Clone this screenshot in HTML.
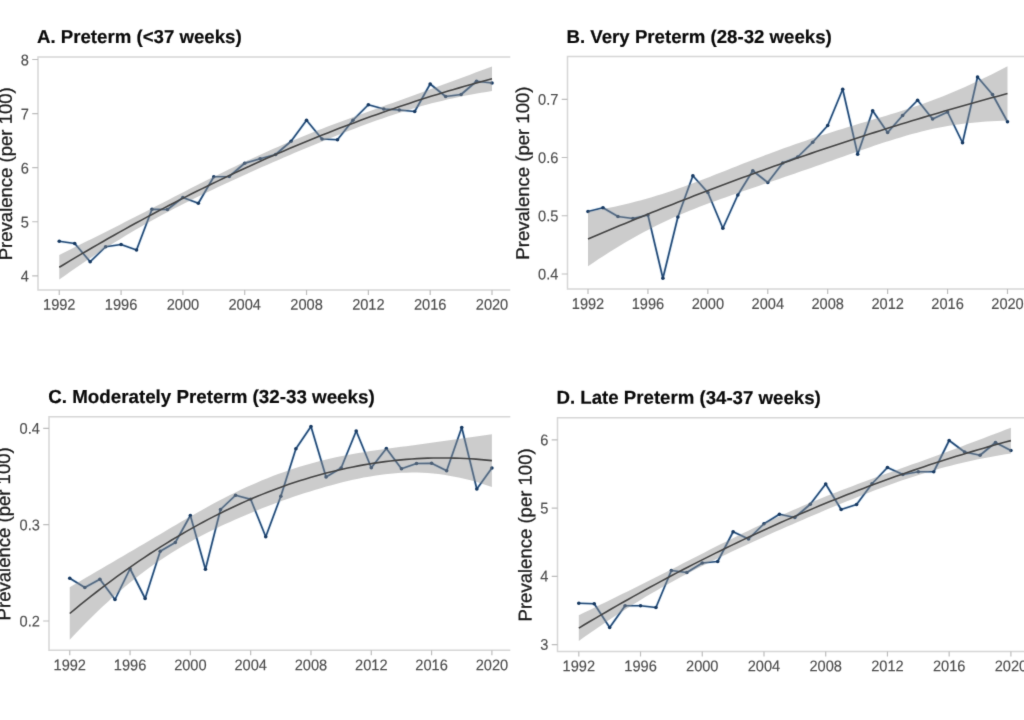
<!DOCTYPE html>
<html lang="en">
<head>
<meta charset="utf-8">
<title>Preterm birth prevalence, 1992-2020</title>
<style>
html,body{margin:0;padding:0;background:#fff;}
body{width:1024px;height:720px;overflow:hidden;font-family:"Liberation Sans",sans-serif;}
svg{display:block;}
text{font-family:"Liberation Sans",sans-serif;text-rendering:geometricPrecision;}
.border{fill:none;stroke:#d6d6d6;stroke-width:1.5;}
.ribbon{fill:#8e8e8e;fill-opacity:0.45;stroke:none;}
.series{fill:none;stroke:#254c78;stroke-width:1.7;stroke-linejoin:round;stroke-linecap:round;}
.halo{fill:none;stroke:#8fbde6;stroke-opacity:0.28;stroke-width:3.2;stroke-linejoin:round;stroke-linecap:round;}
.dots circle{fill:#183a62;}
.smooth{fill:none;stroke:#444444;stroke-width:1.6;stroke-linejoin:round;}
.ticks{fill:none;stroke:#bdbdbd;stroke-width:1.2;}
.ylab text{font-size:14.6px;fill:#4d4d4d;stroke:#4d4d4d;stroke-width:0.15px;text-anchor:end;}
.xlab text{font-size:14.6px;fill:#4d4d4d;stroke:#4d4d4d;stroke-width:0.15px;text-anchor:middle;}
.title{font-size:18.65px;font-weight:bold;fill:#0a0a0a;stroke:#0a0a0a;stroke-width:0.2px;}
.axt{font-size:18.55px;fill:#1a1a1a;stroke:#1a1a1a;stroke-width:0.3px;text-anchor:middle;}
</style>
</head>
<body>
<svg width="1024" height="720" viewBox="0 0 1024 720" role="img" aria-label="Prevalence of preterm birth by gestational age group, 1992 to 2020">
<defs><filter id="soft" x="0" y="0" width="1024" height="720" filterUnits="userSpaceOnUse" color-interpolation-filters="sRGB"><feConvolveMatrix order="3" kernelMatrix="0.0113 0.0838 0.0113 0.0838 0.6193 0.0838 0.0113 0.0838 0.0113" edgeMode="duplicate" preserveAlpha="false"/></filter></defs>
<rect x="0" y="0" width="1024" height="720" fill="#ffffff"/>
<g id="figure" filter="url(#soft)">
<g class="panel" id="panel-a">
<path class="border" d="M510.3 57H38V289.9H510.3"/>
<polyline class="halo" points="59.25,241.25 74.71,243.5 90.16,261.75 105.62,246.75 121.07,244.5 136.53,250 151.98,209.25 167.44,209.5 182.89,197.5 198.35,203.25 213.8,176.75 229.26,176.5 244.71,163.25 260.17,158.75 275.62,154.5 291.08,141.25 306.54,120.25 321.99,139 337.45,139.75 352.9,120.25 368.36,104.75 383.81,109 399.27,110 414.72,111.5 430.18,84 445.63,96.5 461.09,94.5 476.54,81.25 492,83"/>
<polyline class="series" points="59.25,241.25 74.71,243.5 90.16,261.75 105.62,246.75 121.07,244.5 136.53,250 151.98,209.25 167.44,209.5 182.89,197.5 198.35,203.25 213.8,176.75 229.26,176.5 244.71,163.25 260.17,158.75 275.62,154.5 291.08,141.25 306.54,120.25 321.99,139 337.45,139.75 352.9,120.25 368.36,104.75 383.81,109 399.27,110 414.72,111.5 430.18,84 445.63,96.5 461.09,94.5 476.54,81.25 492,83"/>
<g class="dots"><circle cx="59.25" cy="241.25" r="1.8"/><circle cx="74.71" cy="243.5" r="1.8"/><circle cx="90.16" cy="261.75" r="1.8"/><circle cx="105.62" cy="246.75" r="1.8"/><circle cx="121.07" cy="244.5" r="1.8"/><circle cx="136.53" cy="250" r="1.8"/><circle cx="151.98" cy="209.25" r="1.8"/><circle cx="167.44" cy="209.5" r="1.8"/><circle cx="182.89" cy="197.5" r="1.8"/><circle cx="198.35" cy="203.25" r="1.8"/><circle cx="213.8" cy="176.75" r="1.8"/><circle cx="229.26" cy="176.5" r="1.8"/><circle cx="244.71" cy="163.25" r="1.8"/><circle cx="260.17" cy="158.75" r="1.8"/><circle cx="275.62" cy="154.5" r="1.8"/><circle cx="291.08" cy="141.25" r="1.8"/><circle cx="306.54" cy="120.25" r="1.8"/><circle cx="321.99" cy="139" r="1.8"/><circle cx="337.45" cy="139.75" r="1.8"/><circle cx="352.9" cy="120.25" r="1.8"/><circle cx="368.36" cy="104.75" r="1.8"/><circle cx="383.81" cy="109" r="1.8"/><circle cx="399.27" cy="110" r="1.8"/><circle cx="414.72" cy="111.5" r="1.8"/><circle cx="430.18" cy="84" r="1.8"/><circle cx="445.63" cy="96.5" r="1.8"/><circle cx="461.09" cy="94.5" r="1.8"/><circle cx="476.54" cy="81.25" r="1.8"/><circle cx="492" cy="83" r="1.8"/></g>
<polygon class="ribbon" points="59.25,254.95 64.73,252.24 70.21,249.52 75.68,246.81 81.16,244.09 86.64,241.37 92.12,238.64 97.59,235.9 103.07,233.16 108.55,230.42 114.03,227.66 119.51,224.89 124.98,222.12 130.46,219.33 135.94,216.54 141.42,213.74 146.9,210.92 152.37,208.1 157.85,205.28 163.33,202.45 168.81,199.63 174.28,196.8 179.76,193.98 185.24,191.17 190.72,188.37 196.2,185.59 201.67,182.82 207.15,180.07 212.63,177.34 218.11,174.63 223.59,171.95 229.06,169.29 234.54,166.66 240.02,164.06 245.5,161.49 250.97,158.94 256.45,156.43 261.93,153.95 267.41,151.5 272.89,149.08 278.36,146.7 283.84,144.34 289.32,142.02 294.8,139.73 300.28,137.46 305.75,135.23 311.23,133.03 316.71,130.86 322.19,128.72 327.66,126.6 333.14,124.51 338.62,122.45 344.1,120.4 349.58,118.38 355.05,116.38 360.53,114.39 366.01,112.41 371.49,110.45 376.97,108.5 382.44,106.55 387.92,104.6 393.4,102.66 398.88,100.71 404.35,98.75 409.83,96.79 415.31,94.83 420.79,92.85 426.27,90.86 431.74,88.86 437.22,86.85 442.7,84.84 448.18,82.81 453.66,80.78 459.13,78.74 464.61,76.69 470.09,74.64 475.57,72.59 481.04,70.53 486.52,68.47 492,66.41 492,91.07 486.52,91.93 481.04,92.84 475.57,93.8 470.09,94.81 464.61,95.87 459.13,96.98 453.66,98.15 448.18,99.37 442.7,100.65 437.22,101.98 431.74,103.37 426.27,104.81 420.79,106.32 415.31,107.88 409.83,109.49 404.35,111.17 398.88,112.89 393.4,114.67 387.92,116.5 382.44,118.38 376.97,120.3 371.49,122.27 366.01,124.27 360.53,126.31 355.05,128.38 349.58,130.49 344.1,132.62 338.62,134.78 333.14,136.96 327.66,139.17 322.19,141.4 316.71,143.65 311.23,145.92 305.75,148.21 300.28,150.51 294.8,152.84 289.32,155.17 283.84,157.53 278.36,159.9 272.89,162.29 267.41,164.69 261.93,167.11 256.45,169.54 250.97,171.99 245.5,174.46 240.02,176.95 234.54,179.45 229.06,181.97 223.59,184.52 218.11,187.08 212.63,189.67 207.15,192.28 201.67,194.92 196.2,197.59 190.72,200.29 185.24,203.03 179.76,205.8 174.28,208.6 168.81,211.45 163.33,214.35 157.85,217.29 152.37,220.29 146.9,223.33 141.42,226.43 135.94,229.59 130.46,232.8 124.98,236.07 119.51,239.4 114.03,242.79 108.55,246.23 103.07,249.72 97.59,253.28 92.12,256.88 86.64,260.54 81.16,264.26 75.68,268.02 70.21,271.83 64.73,275.7 59.25,279.61"/>
<polyline class="smooth" points="59.25,267.28 64.73,263.97 70.21,260.68 75.68,257.41 81.16,254.17 86.64,250.95 92.12,247.76 97.59,244.59 103.07,241.44 108.55,238.32 114.03,235.22 119.51,232.15 124.98,229.1 130.46,226.07 135.94,223.06 141.42,220.08 146.9,217.13 152.37,214.2 157.85,211.29 163.33,208.4 168.81,205.54 174.28,202.7 179.76,199.89 185.24,197.1 190.72,194.33 196.2,191.59 201.67,188.87 207.15,186.18 212.63,183.5 218.11,180.86 223.59,178.23 229.06,175.63 234.54,173.06 240.02,170.5 245.5,167.97 250.97,165.47 256.45,162.99 261.93,160.53 267.41,158.09 272.89,155.68 278.36,153.3 283.84,150.93 289.32,148.6 294.8,146.28 300.28,143.99 305.75,141.72 311.23,139.48 316.71,137.26 322.19,135.06 327.66,132.89 333.14,130.74 338.62,128.61 344.1,126.51 349.58,124.43 355.05,122.38 360.53,120.35 366.01,118.34 371.49,116.36 376.97,114.4 382.44,112.46 387.92,110.55 393.4,108.66 398.88,106.8 404.35,104.96 409.83,103.14 415.31,101.35 420.79,99.58 426.27,97.84 431.74,96.11 437.22,94.42 442.7,92.74 448.18,91.09 453.66,89.46 459.13,87.86 464.61,86.28 470.09,84.73 475.57,83.2 481.04,81.69 486.52,80.2 492,78.74"/>
<path class="ticks" d="M32.2 275.8h5.8M32.2 221.73h5.8M32.2 167.65h5.8M32.2 113.58h5.8M32.2 59.5h5.8M59.25 289.9v5M121.07 289.9v5M182.89 289.9v5M244.71 289.9v5M306.54 289.9v5M368.36 289.9v5M430.18 289.9v5M492 289.9v5"/>
<g class="ylab"><text transform="translate(28.9 281.6) rotate(0.03) scale(1 1.06)">4</text><text transform="translate(28.9 227.53) rotate(0.03) scale(1 1.06)">5</text><text transform="translate(28.9 173.45) rotate(0.03) scale(1 1.06)">6</text><text transform="translate(28.9 119.38) rotate(0.03) scale(1 1.06)">7</text><text transform="translate(28.9 65.3) rotate(0.03) scale(1 1.06)">8</text></g>
<g class="xlab"><text transform="translate(59.25 309.8) rotate(0.03) scale(1 1.06)">1992</text><text transform="translate(121.07 309.8) rotate(0.03) scale(1 1.06)">1996</text><text transform="translate(182.89 309.8) rotate(0.03) scale(1 1.06)">2000</text><text transform="translate(244.71 309.8) rotate(0.03) scale(1 1.06)">2004</text><text transform="translate(306.54 309.8) rotate(0.03) scale(1 1.06)">2008</text><text transform="translate(368.36 309.8) rotate(0.03) scale(1 1.06)">2012</text><text transform="translate(430.18 309.8) rotate(0.03) scale(1 1.06)">2016</text><text transform="translate(492 309.8) rotate(0.03) scale(1 1.06)">2020</text></g>
<text class="title" transform="translate(37 43) rotate(0.03)">A. Preterm (&lt;37 weeks)</text>
<text class="axt" transform="translate(11.9 173.75) rotate(-90.03)">Prevalence (per 100)</text>
</g>
<g class="panel" id="panel-b">
<path class="border" d="M1030 56.6H567.5V289H1030"/>
<polyline class="halo" points="588,211.5 602.98,207.75 617.96,216.5 632.95,218.5 647.93,215 662.91,278.25 677.89,217 692.88,175.75 707.86,192.5 722.84,228.25 737.82,195 752.8,170.75 767.79,182.5 782.77,163 797.75,157 812.73,142.25 827.71,125.5 842.7,89.25 857.68,154.25 872.66,110.75 887.64,132.5 902.62,115.5 917.61,100.25 932.59,119 947.57,112 962.55,142.75 977.54,77 992.52,94.5 1007.5,121.75"/>
<polyline class="series" points="588,211.5 602.98,207.75 617.96,216.5 632.95,218.5 647.93,215 662.91,278.25 677.89,217 692.88,175.75 707.86,192.5 722.84,228.25 737.82,195 752.8,170.75 767.79,182.5 782.77,163 797.75,157 812.73,142.25 827.71,125.5 842.7,89.25 857.68,154.25 872.66,110.75 887.64,132.5 902.62,115.5 917.61,100.25 932.59,119 947.57,112 962.55,142.75 977.54,77 992.52,94.5 1007.5,121.75"/>
<g class="dots"><circle cx="588" cy="211.5" r="1.8"/><circle cx="602.98" cy="207.75" r="1.8"/><circle cx="617.96" cy="216.5" r="1.8"/><circle cx="632.95" cy="218.5" r="1.8"/><circle cx="647.93" cy="215" r="1.8"/><circle cx="662.91" cy="278.25" r="1.8"/><circle cx="677.89" cy="217" r="1.8"/><circle cx="692.88" cy="175.75" r="1.8"/><circle cx="707.86" cy="192.5" r="1.8"/><circle cx="722.84" cy="228.25" r="1.8"/><circle cx="737.82" cy="195" r="1.8"/><circle cx="752.8" cy="170.75" r="1.8"/><circle cx="767.79" cy="182.5" r="1.8"/><circle cx="782.77" cy="163" r="1.8"/><circle cx="797.75" cy="157" r="1.8"/><circle cx="812.73" cy="142.25" r="1.8"/><circle cx="827.71" cy="125.5" r="1.8"/><circle cx="842.7" cy="89.25" r="1.8"/><circle cx="857.68" cy="154.25" r="1.8"/><circle cx="872.66" cy="110.75" r="1.8"/><circle cx="887.64" cy="132.5" r="1.8"/><circle cx="902.62" cy="115.5" r="1.8"/><circle cx="917.61" cy="100.25" r="1.8"/><circle cx="932.59" cy="119" r="1.8"/><circle cx="947.57" cy="112" r="1.8"/><circle cx="962.55" cy="142.75" r="1.8"/><circle cx="977.54" cy="77" r="1.8"/><circle cx="992.52" cy="94.5" r="1.8"/><circle cx="1007.5" cy="121.75" r="1.8"/></g>
<polygon class="ribbon" points="588,211.75 593.31,210.82 598.62,209.85 603.93,208.82 609.24,207.75 614.55,206.63 619.86,205.46 625.17,204.23 630.48,202.94 635.79,201.6 641.1,200.19 646.41,198.73 651.72,197.2 657.03,195.6 662.34,193.95 667.65,192.23 672.96,190.45 678.27,188.61 683.58,186.72 688.89,184.79 694.2,182.81 699.51,180.79 704.82,178.75 710.13,176.68 715.44,174.6 720.75,172.5 726.06,170.4 731.37,168.3 736.68,166.2 741.99,164.11 747.3,162.03 752.61,159.97 757.92,157.93 763.23,155.9 768.54,153.9 773.85,151.93 779.16,149.97 784.47,148.05 789.78,146.15 795.09,144.28 800.41,142.44 805.72,140.63 811.03,138.84 816.34,137.09 821.65,135.36 826.96,133.65 832.27,131.97 837.58,130.31 842.89,128.67 848.2,127.05 853.51,125.45 858.82,123.85 864.13,122.27 869.44,120.69 874.75,119.11 880.06,117.52 885.37,115.93 890.68,114.31 895.99,112.67 901.3,111.01 906.61,109.3 911.92,107.56 917.23,105.76 922.54,103.92 927.85,102.02 933.16,100.05 938.47,98.03 943.78,95.94 949.09,93.79 954.4,91.57 959.71,89.29 965.02,86.96 970.33,84.56 975.64,82.11 980.95,79.6 986.26,77.04 991.57,74.43 996.88,71.77 1002.19,69.06 1007.5,66.31 1007.5,120.78 1002.19,120.87 996.88,121.04 991.57,121.27 986.26,121.57 980.95,121.95 975.64,122.4 970.33,122.92 965.02,123.53 959.71,124.21 954.4,124.97 949.09,125.82 943.78,126.75 938.47,127.77 933.16,128.87 927.85,130.06 922.54,131.33 917.23,132.67 911.92,134.09 906.61,135.58 901.3,137.13 895.99,138.74 890.68,140.4 885.37,142.1 880.06,143.85 874.75,145.62 869.44,147.43 864.13,149.25 858.82,151.09 853.51,152.95 848.2,154.81 842.89,156.68 837.58,158.56 832.27,160.43 826.96,162.3 821.65,164.17 816.34,166.04 811.03,167.9 805.72,169.75 800.41,171.6 795.09,173.44 789.78,175.28 784.47,177.1 779.16,178.93 773.85,180.74 768.54,182.55 763.23,184.36 757.92,186.17 752.61,187.98 747.3,189.79 741.99,191.61 736.68,193.44 731.37,195.28 726.06,197.14 720.75,199.02 715.44,200.92 710.13,202.86 704.82,204.84 699.51,206.86 694.2,208.93 688.89,211.06 683.58,213.26 678.27,215.52 672.96,217.86 667.65,220.27 662.34,222.77 657.03,225.35 651.72,228.01 646.41,230.76 641.1,233.6 635.79,236.51 630.48,239.51 625.17,242.59 619.86,245.75 614.55,248.98 609.24,252.29 603.93,255.67 598.62,259.12 593.31,262.64 588,266.22"/>
<polyline class="smooth" points="588,238.99 593.31,236.73 598.62,234.48 603.93,232.25 609.24,230.02 614.55,227.81 619.86,225.6 625.17,223.41 630.48,221.23 635.79,219.06 641.1,216.9 646.41,214.74 651.72,212.6 657.03,210.48 662.34,208.36 667.65,206.25 672.96,204.15 678.27,202.07 683.58,199.99 688.89,197.93 694.2,195.87 699.51,193.83 704.82,191.79 710.13,189.77 715.44,187.76 720.75,185.76 726.06,183.77 731.37,181.79 736.68,179.82 741.99,177.86 747.3,175.91 752.61,173.98 757.92,172.05 763.23,170.13 768.54,168.23 773.85,166.33 779.16,164.45 784.47,162.58 789.78,160.71 795.09,158.86 800.41,157.02 805.72,155.19 811.03,153.37 816.34,151.56 821.65,149.76 826.96,147.98 832.27,146.2 837.58,144.43 842.89,142.68 848.2,140.93 853.51,139.2 858.82,137.47 864.13,135.76 869.44,134.06 874.75,132.37 880.06,130.69 885.37,129.02 890.68,127.36 895.99,125.71 901.3,124.07 906.61,122.44 911.92,120.82 917.23,119.22 922.54,117.62 927.85,116.04 933.16,114.46 938.47,112.9 943.78,111.35 949.09,109.8 954.4,108.27 959.71,106.75 965.02,105.24 970.33,103.74 975.64,102.25 980.95,100.77 986.26,99.31 991.57,97.85 996.88,96.4 1002.19,94.97 1007.5,93.54"/>
<path class="ticks" d="M561.7 274h5.8M561.7 215.75h5.8M561.7 157.5h5.8M561.7 99.3h5.8M588 289v5M647.93 289v5M707.86 289v5M767.79 289v5M827.71 289v5M887.64 289v5M947.57 289v5M1007.5 289v5"/>
<g class="ylab"><text transform="translate(558.4 279.5) rotate(0.03) scale(1 1.06)">0.4</text><text transform="translate(558.4 221.25) rotate(0.03) scale(1 1.06)">0.5</text><text transform="translate(558.4 163) rotate(0.03) scale(1 1.06)">0.6</text><text transform="translate(558.4 104.8) rotate(0.03) scale(1 1.06)">0.7</text></g>
<g class="xlab"><text transform="translate(588 308.9) rotate(0.03) scale(1 1.06)">1992</text><text transform="translate(647.93 308.9) rotate(0.03) scale(1 1.06)">1996</text><text transform="translate(707.86 308.9) rotate(0.03) scale(1 1.06)">2000</text><text transform="translate(767.79 308.9) rotate(0.03) scale(1 1.06)">2004</text><text transform="translate(827.71 308.9) rotate(0.03) scale(1 1.06)">2008</text><text transform="translate(887.64 308.9) rotate(0.03) scale(1 1.06)">2012</text><text transform="translate(947.57 308.9) rotate(0.03) scale(1 1.06)">2016</text><text transform="translate(1007.5 308.9) rotate(0.03) scale(1 1.06)">2020</text></g>
<text class="title" transform="translate(566.5 43) rotate(0.03)">B. Very Preterm (28-32 weeks)</text>
<text class="axt" transform="translate(529 173.1) rotate(-90.03)">Prevalence (per 100)</text>
</g>
<g class="panel" id="panel-c">
<path class="border" d="M510.3 416.75H49V650.35H510.3"/>
<polyline class="halo" points="69.75,578.25 84.83,587.5 99.9,579.25 114.98,599.5 130.06,568.75 145.13,598.5 160.21,551.25 175.29,542.5 190.36,515.5 205.44,569.25 220.52,509.5 235.59,495.25 250.67,499.25 265.75,536.75 280.82,496.25 295.9,448.75 310.98,426.5 326.06,477 341.13,468 356.21,431 371.29,467.75 386.36,448.5 401.44,468.75 416.52,463.5 431.59,463.25 446.67,470.75 461.75,427.5 476.82,489 491.9,468"/>
<polyline class="series" points="69.75,578.25 84.83,587.5 99.9,579.25 114.98,599.5 130.06,568.75 145.13,598.5 160.21,551.25 175.29,542.5 190.36,515.5 205.44,569.25 220.52,509.5 235.59,495.25 250.67,499.25 265.75,536.75 280.82,496.25 295.9,448.75 310.98,426.5 326.06,477 341.13,468 356.21,431 371.29,467.75 386.36,448.5 401.44,468.75 416.52,463.5 431.59,463.25 446.67,470.75 461.75,427.5 476.82,489 491.9,468"/>
<g class="dots"><circle cx="69.75" cy="578.25" r="1.8"/><circle cx="84.83" cy="587.5" r="1.8"/><circle cx="99.9" cy="579.25" r="1.8"/><circle cx="114.98" cy="599.5" r="1.8"/><circle cx="130.06" cy="568.75" r="1.8"/><circle cx="145.13" cy="598.5" r="1.8"/><circle cx="160.21" cy="551.25" r="1.8"/><circle cx="175.29" cy="542.5" r="1.8"/><circle cx="190.36" cy="515.5" r="1.8"/><circle cx="205.44" cy="569.25" r="1.8"/><circle cx="220.52" cy="509.5" r="1.8"/><circle cx="235.59" cy="495.25" r="1.8"/><circle cx="250.67" cy="499.25" r="1.8"/><circle cx="265.75" cy="536.75" r="1.8"/><circle cx="280.82" cy="496.25" r="1.8"/><circle cx="295.9" cy="448.75" r="1.8"/><circle cx="310.98" cy="426.5" r="1.8"/><circle cx="326.06" cy="477" r="1.8"/><circle cx="341.13" cy="468" r="1.8"/><circle cx="356.21" cy="431" r="1.8"/><circle cx="371.29" cy="467.75" r="1.8"/><circle cx="386.36" cy="448.5" r="1.8"/><circle cx="401.44" cy="468.75" r="1.8"/><circle cx="416.52" cy="463.5" r="1.8"/><circle cx="431.59" cy="463.25" r="1.8"/><circle cx="446.67" cy="470.75" r="1.8"/><circle cx="461.75" cy="427.5" r="1.8"/><circle cx="476.82" cy="489" r="1.8"/><circle cx="491.9" cy="468" r="1.8"/></g>
<polygon class="ribbon" points="69.75,587.17 75.09,584.02 80.44,580.89 85.78,577.76 91.12,574.64 96.47,571.53 101.81,568.41 107.16,565.3 112.5,562.19 117.84,559.07 123.19,555.95 128.53,552.82 133.87,549.69 139.22,546.54 144.56,543.39 149.91,540.24 155.25,537.08 160.59,533.91 165.94,530.75 171.28,527.6 176.62,524.46 181.97,521.34 187.31,518.24 192.65,515.18 198,512.15 203.34,509.16 208.69,506.22 214.03,503.34 219.37,500.51 224.72,497.75 230.06,495.05 235.4,492.42 240.75,489.86 246.09,487.37 251.43,484.96 256.78,482.63 262.12,480.37 267.47,478.2 272.81,476.1 278.15,474.08 283.5,472.15 288.84,470.3 294.18,468.52 299.53,466.83 304.87,465.22 310.22,463.68 315.56,462.22 320.9,460.84 326.25,459.53 331.59,458.29 336.93,457.12 342.28,456.01 347.62,454.97 352.96,453.99 358.31,453.05 363.65,452.17 369,451.33 374.34,450.52 379.68,449.75 385.03,449 390.37,448.27 395.71,447.56 401.06,446.85 406.4,446.14 411.74,445.43 417.09,444.72 422.43,444 427.78,443.28 433.12,442.54 438.46,441.8 443.81,441.05 449.15,440.3 454.49,439.54 459.84,438.79 465.18,438.03 470.53,437.28 475.87,436.53 481.21,435.78 486.56,435.05 491.9,434.33 491.9,486.99 486.56,485.15 481.21,483.42 475.87,481.82 470.53,480.34 465.18,478.98 459.84,477.74 454.49,476.64 449.15,475.66 443.81,474.81 438.46,474.1 433.12,473.52 427.78,473.07 422.43,472.76 417.09,472.59 411.74,472.55 406.4,472.64 401.06,472.86 395.71,473.21 390.37,473.68 385.03,474.26 379.68,474.95 374.34,475.75 369,476.64 363.65,477.62 358.31,478.69 352.96,479.84 347.62,481.06 342.28,482.35 336.93,483.71 331.59,485.13 326.25,486.61 320.9,488.15 315.56,489.74 310.22,491.38 304.87,493.08 299.53,494.82 294.18,496.61 288.84,498.45 283.5,500.34 278.15,502.28 272.81,504.26 267.47,506.29 262.12,508.36 256.78,510.49 251.43,512.66 246.09,514.89 240.75,517.17 235.4,519.5 230.06,521.89 224.72,524.34 219.37,526.85 214.03,529.43 208.69,532.08 203.34,534.8 198,537.6 192.65,540.49 187.31,543.46 181.97,546.54 176.62,549.72 171.28,553 165.94,556.4 160.59,559.93 155.25,563.57 149.91,567.35 144.56,571.26 139.22,575.3 133.87,579.48 128.53,583.8 123.19,588.25 117.84,592.83 112.5,597.55 107.16,602.39 101.81,607.37 96.47,612.48 91.12,617.7 85.78,623.06 80.44,628.53 75.09,634.12 69.75,639.83"/>
<polyline class="smooth" points="69.75,613.5 75.09,609.07 80.44,604.71 85.78,600.41 91.12,596.17 96.47,592 101.81,587.89 107.16,583.85 112.5,579.87 117.84,575.95 123.19,572.1 128.53,568.31 133.87,564.58 139.22,560.92 144.56,557.33 149.91,553.79 155.25,550.32 160.59,546.92 165.94,543.58 171.28,540.3 176.62,537.09 181.97,533.94 187.31,530.85 192.65,527.83 198,524.87 203.34,521.98 208.69,519.15 214.03,516.38 219.37,513.68 224.72,511.04 230.06,508.47 235.4,505.96 240.75,503.51 246.09,501.13 251.43,498.81 256.78,496.56 262.12,494.37 267.47,492.24 272.81,490.18 278.15,488.18 283.5,486.25 288.84,484.37 294.18,482.57 299.53,480.82 304.87,479.15 310.22,477.53 315.56,475.98 320.9,474.49 326.25,473.07 331.59,471.71 336.93,470.41 342.28,469.18 347.62,468.02 352.96,466.91 358.31,465.87 363.65,464.9 369,463.98 374.34,463.14 379.68,462.35 385.03,461.63 390.37,460.98 395.71,460.38 401.06,459.86 406.4,459.39 411.74,458.99 417.09,458.65 422.43,458.38 427.78,458.17 433.12,458.03 438.46,457.95 443.81,457.93 449.15,457.98 454.49,458.09 459.84,458.26 465.18,458.5 470.53,458.81 475.87,459.17 481.21,459.6 486.56,460.1 491.9,460.66"/>
<path class="ticks" d="M43.2 621h5.8M43.2 524.65h5.8M43.2 428.3h5.8M69.75 650.35v5M130.06 650.35v5M190.36 650.35v5M250.67 650.35v5M310.98 650.35v5M371.29 650.35v5M431.59 650.35v5M491.9 650.35v5"/>
<g class="ylab"><text transform="translate(39.9 626.5) rotate(0.03) scale(1 1.06)">0.2</text><text transform="translate(39.9 530.15) rotate(0.03) scale(1 1.06)">0.3</text><text transform="translate(39.9 433.8) rotate(0.03) scale(1 1.06)">0.4</text></g>
<g class="xlab"><text transform="translate(69.75 670.25) rotate(0.03) scale(1 1.06)">1992</text><text transform="translate(130.06 670.25) rotate(0.03) scale(1 1.06)">1996</text><text transform="translate(190.36 670.25) rotate(0.03) scale(1 1.06)">2000</text><text transform="translate(250.67 670.25) rotate(0.03) scale(1 1.06)">2004</text><text transform="translate(310.98 670.25) rotate(0.03) scale(1 1.06)">2008</text><text transform="translate(371.29 670.25) rotate(0.03) scale(1 1.06)">2012</text><text transform="translate(431.59 670.25) rotate(0.03) scale(1 1.06)">2016</text><text transform="translate(491.9 670.25) rotate(0.03) scale(1 1.06)">2020</text></g>
<text class="title" style="font-size:18.77px" transform="translate(48.2 403) rotate(0.03)">C. Moderately Preterm (32-33 weeks)</text>
<text class="axt" transform="translate(10.1 533.85) rotate(-90.03)">Prevalence (per 100)</text>
</g>
<g class="panel" id="panel-d">
<path class="border" d="M1030 417.75H557.5V651.4H1030"/>
<polyline class="halo" points="578.8,603.25 594.23,603.75 609.66,627.5 625.1,605.75 640.53,605.75 655.96,607.5 671.39,570.5 686.82,572.5 702.26,563 717.69,561.5 733.12,531.75 748.55,539 763.99,523.75 779.42,514.25 794.85,517.5 810.28,504.25 825.71,484 841.15,509.5 856.58,504.5 872.01,483.75 887.44,467.5 902.88,474.5 918.31,471.75 933.74,471.75 949.17,440.5 964.6,452 980.04,455.25 995.47,442.5 1010.9,450.5"/>
<polyline class="series" points="578.8,603.25 594.23,603.75 609.66,627.5 625.1,605.75 640.53,605.75 655.96,607.5 671.39,570.5 686.82,572.5 702.26,563 717.69,561.5 733.12,531.75 748.55,539 763.99,523.75 779.42,514.25 794.85,517.5 810.28,504.25 825.71,484 841.15,509.5 856.58,504.5 872.01,483.75 887.44,467.5 902.88,474.5 918.31,471.75 933.74,471.75 949.17,440.5 964.6,452 980.04,455.25 995.47,442.5 1010.9,450.5"/>
<g class="dots"><circle cx="578.8" cy="603.25" r="1.8"/><circle cx="594.23" cy="603.75" r="1.8"/><circle cx="609.66" cy="627.5" r="1.8"/><circle cx="625.1" cy="605.75" r="1.8"/><circle cx="640.53" cy="605.75" r="1.8"/><circle cx="655.96" cy="607.5" r="1.8"/><circle cx="671.39" cy="570.5" r="1.8"/><circle cx="686.82" cy="572.5" r="1.8"/><circle cx="702.26" cy="563" r="1.8"/><circle cx="717.69" cy="561.5" r="1.8"/><circle cx="733.12" cy="531.75" r="1.8"/><circle cx="748.55" cy="539" r="1.8"/><circle cx="763.99" cy="523.75" r="1.8"/><circle cx="779.42" cy="514.25" r="1.8"/><circle cx="794.85" cy="517.5" r="1.8"/><circle cx="810.28" cy="504.25" r="1.8"/><circle cx="825.71" cy="484" r="1.8"/><circle cx="841.15" cy="509.5" r="1.8"/><circle cx="856.58" cy="504.5" r="1.8"/><circle cx="872.01" cy="483.75" r="1.8"/><circle cx="887.44" cy="467.5" r="1.8"/><circle cx="902.88" cy="474.5" r="1.8"/><circle cx="918.31" cy="471.75" r="1.8"/><circle cx="933.74" cy="471.75" r="1.8"/><circle cx="949.17" cy="440.5" r="1.8"/><circle cx="964.6" cy="452" r="1.8"/><circle cx="980.04" cy="455.25" r="1.8"/><circle cx="995.47" cy="442.5" r="1.8"/><circle cx="1010.9" cy="450.5" r="1.8"/></g>
<polygon class="ribbon" points="578.8,615.19 584.27,612.55 589.74,609.9 595.21,607.24 600.68,604.58 606.15,601.91 611.62,599.24 617.09,596.56 622.56,593.87 628.03,591.17 633.5,588.46 638.97,585.74 644.44,583.01 649.91,580.27 655.37,577.51 660.84,574.74 666.31,571.96 671.78,569.18 677.25,566.38 682.72,563.59 688.19,560.78 693.66,557.99 699.13,555.19 704.6,552.4 710.07,549.62 715.54,546.86 721.01,544.11 726.48,541.38 731.95,538.67 737.42,535.98 742.89,533.31 748.36,530.67 753.83,528.05 759.3,525.47 764.77,522.91 770.24,520.38 775.71,517.89 781.18,515.42 786.65,512.98 792.12,510.58 797.58,508.21 803.05,505.86 808.52,503.55 813.99,501.27 819.46,499.03 824.93,496.81 830.4,494.62 835.87,492.46 841.34,490.33 846.81,488.22 852.28,486.14 857.75,484.08 863.22,482.05 868.69,480.03 874.16,478.04 879.63,476.06 885.1,474.09 890.57,472.13 896.04,470.18 901.51,468.23 906.98,466.29 912.45,464.34 917.92,462.39 923.39,460.43 928.86,458.46 934.33,456.48 939.79,454.49 945.26,452.49 950.73,450.48 956.2,448.45 961.67,446.41 967.14,444.37 972.61,442.31 978.08,440.24 983.55,438.17 989.02,436.09 994.49,434 999.96,431.91 1005.43,429.82 1010.9,427.72 1010.9,453.51 1005.43,454.35 999.96,455.24 994.49,456.18 989.02,457.18 983.55,458.22 978.08,459.32 972.61,460.47 967.14,461.68 961.67,462.94 956.2,464.26 950.73,465.64 945.26,467.08 939.79,468.57 934.33,470.13 928.86,471.74 923.39,473.4 917.92,475.13 912.45,476.9 906.98,478.73 901.51,480.6 896.04,482.52 890.57,484.48 885.1,486.48 879.63,488.52 874.16,490.59 868.69,492.69 863.22,494.82 857.75,496.98 852.28,499.16 846.81,501.36 841.34,503.59 835.87,505.83 830.4,508.09 824.93,510.37 819.46,512.67 813.99,514.98 808.52,517.31 803.05,519.65 797.58,522.01 792.12,524.38 786.65,526.77 781.18,529.17 775.71,531.59 770.24,534.03 764.77,536.48 759.3,538.94 753.83,541.43 748.36,543.93 742.89,546.45 737.42,549 731.95,551.56 726.48,554.15 721.01,556.77 715.54,559.41 710.07,562.09 704.6,564.8 699.13,567.54 693.66,570.33 688.19,573.15 682.72,576.02 677.25,578.94 671.78,581.92 666.31,584.94 660.84,588.02 655.37,591.15 649.91,594.35 644.44,597.6 638.97,600.91 633.5,604.28 628.03,607.7 622.56,611.19 617.09,614.72 611.62,618.32 606.15,621.97 600.68,625.67 595.21,629.42 589.74,633.22 584.27,637.08 578.8,640.98"/>
<polyline class="smooth" points="578.8,628.09 584.27,624.81 589.74,621.56 595.21,618.33 600.68,615.12 606.15,611.94 611.62,608.78 617.09,605.64 622.56,602.53 628.03,599.44 633.5,596.37 638.97,593.33 644.44,590.31 649.91,587.31 655.37,584.33 660.84,581.38 666.31,578.45 671.78,575.55 677.25,572.66 682.72,569.8 688.19,566.97 693.66,564.16 699.13,561.37 704.6,558.6 710.07,555.86 715.54,553.14 721.01,550.44 726.48,547.76 731.95,545.11 737.42,542.49 742.89,539.88 748.36,537.3 753.83,534.74 759.3,532.21 764.77,529.69 770.24,527.21 775.71,524.74 781.18,522.3 786.65,519.88 792.12,517.48 797.58,515.11 803.05,512.76 808.52,510.43 813.99,508.13 819.46,505.85 824.93,503.59 830.4,501.36 835.87,499.14 841.34,496.96 846.81,494.79 852.28,492.65 857.75,490.53 863.22,488.44 868.69,486.36 874.16,484.32 879.63,482.29 885.1,480.29 890.57,478.31 896.04,476.35 901.51,474.42 906.98,472.51 912.45,470.62 917.92,468.76 923.39,466.92 928.86,465.1 934.33,463.3 939.79,461.53 945.26,459.78 950.73,458.06 956.2,456.36 961.67,454.68 967.14,453.02 972.61,451.39 978.08,449.78 983.55,448.2 989.02,446.63 994.49,445.09 999.96,443.58 1005.43,442.08 1010.9,440.61"/>
<path class="ticks" d="M551.7 644.55h5.8M551.7 576.32h5.8M551.7 508.08h5.8M551.7 439.85h5.8M578.8 651.4v5M640.53 651.4v5M702.26 651.4v5M763.99 651.4v5M825.71 651.4v5M887.44 651.4v5M949.17 651.4v5M1010.9 651.4v5"/>
<g class="ylab"><text transform="translate(548.4 649.85) rotate(0.03) scale(1 1.06)">3</text><text transform="translate(548.4 581.62) rotate(0.03) scale(1 1.06)">4</text><text transform="translate(548.4 513.38) rotate(0.03) scale(1 1.06)">5</text><text transform="translate(548.4 445.15) rotate(0.03) scale(1 1.06)">6</text></g>
<g class="xlab"><text transform="translate(578.8 671.3) rotate(0.03) scale(1 1.06)">1992</text><text transform="translate(640.53 671.3) rotate(0.03) scale(1 1.06)">1996</text><text transform="translate(702.26 671.3) rotate(0.03) scale(1 1.06)">2000</text><text transform="translate(763.99 671.3) rotate(0.03) scale(1 1.06)">2004</text><text transform="translate(825.71 671.3) rotate(0.03) scale(1 1.06)">2008</text><text transform="translate(887.44 671.3) rotate(0.03) scale(1 1.06)">2012</text><text transform="translate(949.17 671.3) rotate(0.03) scale(1 1.06)">2016</text><text transform="translate(1010.9 671.3) rotate(0.03) scale(1 1.06)">2020</text></g>
<text class="title" transform="translate(556.5 403.8) rotate(0.03)">D. Late Preterm (34-37 weeks)</text>
<text class="axt" transform="translate(531.5 534.88) rotate(-90.03)">Prevalence (per 100)</text>
</g>
</g>
</svg>
</body>
</html>
